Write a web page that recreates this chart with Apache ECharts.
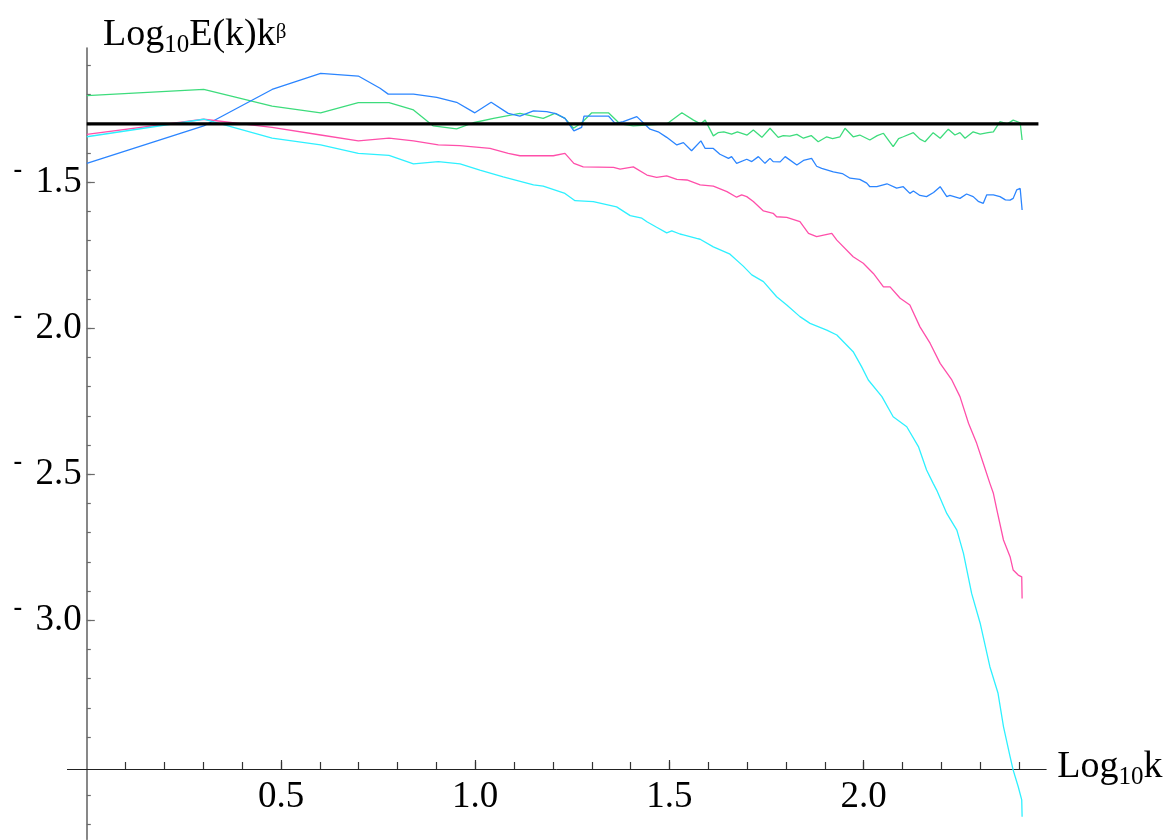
<!DOCTYPE html>
<html><head><meta charset="utf-8">
<script src="https://cdn.jsdelivr.net/npm/echarts@6/dist/echarts.min.js"></script>
<style>html,body{margin:0;padding:0;background:#fff}#c{width:1167px;height:840px}</style>
</head><body><div id="c"></div>
<script>
// ---- data (x = log10 k, y = log10 E(k) k^beta) ----
const greenX = [0,0.301,0.477,0.602,0.699,0.778,0.841,0.892,0.952,0.995,1.047,1.115,1.175,1.205,1.231,1.253,1.274,1.300,1.343,1.373,1.407,1.450,1.493,1.532,1.562,1.580,1.592,1.613,1.625,1.640,1.660,1.675,1.700,1.716,1.738,1.759,1.780,1.793,1.810,1.828,1.845,1.865,1.883,1.905,1.920,1.939,1.952,1.973,1.990,2.016,2.035,2.051,2.076,2.090,2.102,2.128,2.145,2.158,2.179,2.197,2.218,2.235,2.248,2.261,2.282,2.300,2.320,2.334,2.351,2.370,2.385,2.403,2.408];
const greenY = [-1.203,-1.182,-1.239,-1.262,-1.227,-1.227,-1.252,-1.307,-1.317,-1.296,-1.281,-1.264,-1.281,-1.264,-1.281,-1.315,-1.296,-1.262,-1.262,-1.300,-1.307,-1.303,-1.300,-1.262,-1.287,-1.300,-1.287,-1.341,-1.330,-1.327,-1.335,-1.327,-1.338,-1.321,-1.346,-1.315,-1.346,-1.340,-1.342,-1.336,-1.349,-1.340,-1.361,-1.344,-1.350,-1.344,-1.315,-1.344,-1.338,-1.355,-1.340,-1.332,-1.378,-1.350,-1.344,-1.330,-1.352,-1.361,-1.330,-1.349,-1.318,-1.338,-1.330,-1.349,-1.327,-1.335,-1.330,-1.327,-1.292,-1.300,-1.287,-1.296,-1.355];

const blueX = [0,0.301,0.477,0.602,0.699,0.755,0.776,0.841,0.901,0.952,0.999,1.041,1.085,1.115,1.150,1.184,1.210,1.231,1.254,1.274,1.280,1.343,1.360,1.381,1.416,1.450,1.471,1.493,1.519,1.536,1.557,1.581,1.592,1.613,1.630,1.652,1.660,1.673,1.699,1.712,1.729,1.746,1.759,1.767,1.785,1.798,1.828,1.845,1.866,1.879,1.892,1.922,1.945,1.965,1.990,2.008,2.016,2.034,2.060,2.085,2.102,2.119,2.128,2.145,2.162,2.180,2.197,2.214,2.222,2.248,2.265,2.282,2.295,2.308,2.317,2.334,2.351,2.365,2.377,2.385,2.394,2.403,2.407,2.408];
const blueY = [-1.435,-1.307,-1.182,-1.127,-1.136,-1.178,-1.198,-1.198,-1.209,-1.226,-1.262,-1.226,-1.264,-1.273,-1.255,-1.258,-1.266,-1.281,-1.324,-1.312,-1.273,-1.273,-1.298,-1.292,-1.275,-1.318,-1.327,-1.346,-1.372,-1.364,-1.392,-1.358,-1.384,-1.384,-1.404,-1.418,-1.412,-1.435,-1.421,-1.429,-1.412,-1.435,-1.418,-1.429,-1.430,-1.412,-1.441,-1.425,-1.418,-1.445,-1.452,-1.464,-1.470,-1.486,-1.490,-1.503,-1.515,-1.515,-1.505,-1.520,-1.515,-1.538,-1.530,-1.545,-1.549,-1.535,-1.515,-1.549,-1.545,-1.555,-1.540,-1.549,-1.565,-1.572,-1.543,-1.543,-1.549,-1.560,-1.561,-1.555,-1.526,-1.521,-1.526,-1.595];

const pinkX = [0,0.301,0.477,0.602,0.699,0.778,0.841,0.905,0.960,1.038,1.085,1.115,1.201,1.231,1.254,1.278,1.356,1.373,1.407,1.442,1.467,1.493,1.519,1.545,1.579,1.613,1.648,1.673,1.686,1.699,1.716,1.742,1.767,1.776,1.802,1.836,1.858,1.879,1.918,1.931,1.973,1.999,2.025,2.051,2.068,2.094,2.119,2.145,2.171,2.197,2.227,2.248,2.270,2.291,2.308,2.325,2.334,2.343,2.360,2.377,2.385,2.398,2.407,2.408];
const pinkY = [-1.336,-1.284,-1.312,-1.338,-1.358,-1.349,-1.358,-1.372,-1.374,-1.384,-1.401,-1.409,-1.409,-1.401,-1.435,-1.447,-1.449,-1.455,-1.447,-1.475,-1.483,-1.478,-1.490,-1.492,-1.509,-1.513,-1.532,-1.551,-1.543,-1.549,-1.566,-1.598,-1.606,-1.618,-1.620,-1.635,-1.675,-1.686,-1.675,-1.698,-1.755,-1.777,-1.812,-1.858,-1.858,-1.897,-1.920,-1.995,-2.051,-2.120,-2.177,-2.234,-2.325,-2.394,-2.462,-2.531,-2.565,-2.622,-2.725,-2.782,-2.828,-2.845,-2.851,-2.925];

const cyanX = [0,0.301,0.477,0.602,0.699,0.778,0.841,0.905,0.961,1.012,1.072,1.150,1.175,1.231,1.257,1.304,1.364,1.399,1.429,1.442,1.467,1.493,1.506,1.527,1.536,1.570,1.579,1.613,1.622,1.656,1.690,1.712,1.742,1.776,1.802,1.836,1.862,1.905,1.931,1.973,1.995,2.012,2.047,2.076,2.111,2.141,2.162,2.179,2.188,2.214,2.240,2.257,2.278,2.300,2.325,2.346,2.360,2.377,2.385,2.398,2.407,2.408];
const cyanY = [-1.344,-1.284,-1.349,-1.372,-1.401,-1.408,-1.437,-1.429,-1.437,-1.458,-1.481,-1.509,-1.513,-1.538,-1.563,-1.566,-1.584,-1.614,-1.623,-1.635,-1.654,-1.673,-1.666,-1.677,-1.680,-1.692,-1.695,-1.721,-1.726,-1.746,-1.787,-1.817,-1.840,-1.892,-1.920,-1.960,-1.983,-2.006,-2.023,-2.080,-2.132,-2.177,-2.234,-2.303,-2.337,-2.405,-2.485,-2.531,-2.554,-2.634,-2.691,-2.771,-2.908,-3.010,-3.159,-3.250,-3.364,-3.467,-3.513,-3.570,-3.615,-3.673];

const refX = [0, 2.45];
const refY = [-1.3, -1.3];

const xTickMajor = [0.5, 1.0, 1.5, 2.0];
const xTickMinor = [0.1,0.2,0.3,0.4,0.6,0.7,0.8,0.9,1.1,1.2,1.3,1.4,1.6,1.7,1.8,1.9,2.1,2.2,2.3,2.4];
const yTickMajor = [-1.5, -2.0, -2.5, -3.0];
const yTickMinor = [-1.1,-1.2,-1.3,-1.4,-1.6,-1.7,-1.8,-1.9,-2.1,-2.2,-2.3,-2.4,-2.6,-2.7,-2.8,-2.9,-3.1,-3.2,-3.3,-3.4,-3.6,-3.7];

const xTitle = '{m|Log}{s|10}{m|k}';
const yTitle = '{m|Log}{s|10}{m|E(k)k}{p|β}';

// ---- chart ----
const FONT = '"Liberation Serif","DejaVu Serif",serif';
const titleRich = {
  m: {fontFamily: FONT, fontSize: 38, fontWeight: 'normal', lineHeight: 42, verticalAlign: 'top', color: '#000'},
  s: {fontFamily: FONT, fontSize: 25, fontWeight: 'normal', lineHeight: 25, padding: [25, 0, 0, 0], verticalAlign: 'bottom', color: '#000'},
  p: {fontFamily: FONT, fontSize: 21, fontWeight: 'normal', lineHeight: 22, padding: [6, 0, 0, 0], verticalAlign: 'top', color: '#000'}
};
const X0 = -0.05, X1 = 2.47, Y0 = -3.75, Y1 = -1.04;
const pairs = (xs, ys) => xs.map((x, i) => [x, ys[i]]);
const mkLine = (name, xs, ys, color, width, z) => ({
  name, type: 'line', xAxisIndex: 0, yAxisIndex: 0, data: pairs(xs, ys),
  showSymbol: false, symbol: 'none', silent: true, z,
  lineStyle: {color, width}
});

const chart = echarts.init(document.getElementById('c'), null, {renderer: 'canvas'});
chart.setOption({
  animation: false,
  backgroundColor: '#fff',
  title: {text: yTitle, left: 103, top: 16, padding: 0, textStyle: {fontFamily: FONT, fontWeight: 'normal', rich: titleRich}},
  grid: {left: 67.4, top: 48, width: 978.8, height: 791.3, containLabel: false, outerBoundsMode: 'none'},
  xAxis: [{
    type: 'value', min: X0, max: X1, position: 'bottom', offset: -70.3,
    axisLine: {show: true, onZero: false, lineStyle: {color: '#222', width: 1}},
    axisTick: {show: true, inside: true, length: 7, customValues: xTickMinor.concat(xTickMajor), lineStyle: {color: '#333', width: 1.2}},
    axisLabel: {show: true, customValues: xTickMajor, formatter: v => v.toFixed(1), fontFamily: FONT, fontSize: 37, lineHeight: 40, color: '#000', margin: 8},
    splitLine: {show: false},
    name: xTitle, nameLocation: 'end', nameGap: 11,
    nameTextStyle: {align: 'left', verticalAlign: 'middle', fontFamily: FONT, fontWeight: 'normal', rich: titleRich}
  }, {
    type: 'value', min: X0, max: X1, position: 'bottom', offset: -70.3,
    axisLine: {show: false, onZero: false},
    axisTick: {show: true, inside: true, length: 9, customValues: xTickMajor, lineStyle: {color: '#333', width: 1.2}},
    axisLabel: {show: false}, splitLine: {show: false}
  }],
  yAxis: [{
    type: 'value', min: Y0, max: Y1, position: 'left', offset: -19.4,
    axisLine: {show: true, onZero: false, lineStyle: {color: '#6a6a6a', width: 1.6}},
    axisTick: {show: true, inside: true, length: 4, customValues: yTickMinor.concat(yTickMajor), lineStyle: {color: '#6a6a6a', width: 1.2}},
    axisLabel: {
      show: true, customValues: yTickMajor, margin: 5,
      formatter: v => '{d|-}{n|' + Math.abs(v).toFixed(1) + '}',
      rich: {
        d: {fontFamily: FONT, fontSize: 26, fontWeight: 'bold', lineHeight: 24, width: 22, align: 'left', verticalAlign: 'top', color: '#000'},
        n: {fontFamily: FONT, fontSize: 37, lineHeight: 50, verticalAlign: 'middle', color: '#000'}
      }
    },
    splitLine: {show: false}
  }, {
    type: 'value', min: Y0, max: Y1, position: 'left', offset: -19.4,
    axisLine: {show: false, onZero: false},
    axisTick: {show: true, inside: true, length: 8, customValues: yTickMajor, lineStyle: {color: '#6a6a6a', width: 1.2}},
    axisLabel: {show: false}, splitLine: {show: false}
  }],
  series: [
    mkLine('green', greenX, greenY, '#3ddc7c', 1.3, 2),
    mkLine('blue', blueX, blueY, '#2b85ff', 1.3, 3),
    mkLine('pink', pinkX, pinkY, '#ff4faa', 1.3, 4),
    mkLine('cyan', cyanX, cyanY, '#2ef0ff', 1.3, 5),
    mkLine('reference', refX, refY, '#000', 3.2, 10)
  ]
});
</script>
</body></html>
